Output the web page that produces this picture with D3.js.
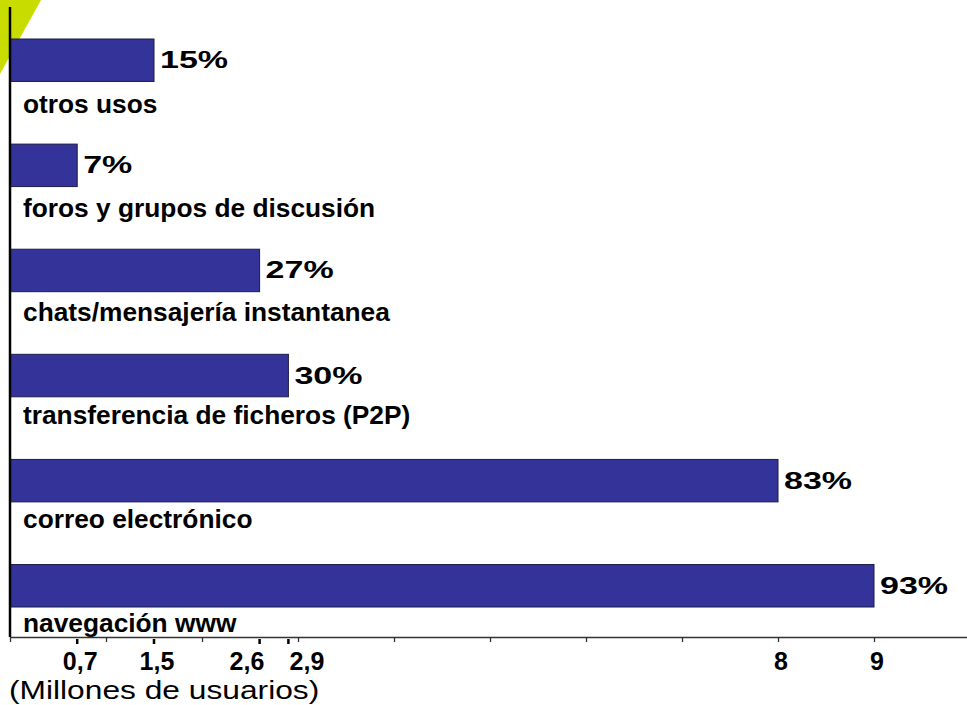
<!DOCTYPE html>
<html>
<head>
<meta charset="utf-8">
<script src="https://cdn.jsdelivr.net/npm/d3@7"></script>
<style>
  html, body { margin: 0; padding: 0; background: #ffffff; }
  svg { display: block; }
</style>
</head>
<body>
<script>
// Internet usage by service (millions of users, share of internet users)
const categories = [
  "otros usos",
  "foros y grupos de discusión",
  "chats/mensajería instantanea",
  "transferencia de ficheros (P2P)",
  "correo electrónico",
  "navegación www"
];
const usersMillions = [1.5, 0.7, 2.6, 2.9, 8, 9];
const sharePct = [15, 7, 27, 30, 83, 93];
const labeledTicks = [0.7, 1.5, 2.6, 2.9, 8, 9];
const majorTicks = [0, 1, 2, 3, 4, 5, 6, 7, 8, 9, 10];
const axisTitle = "(Millones de usuarios)";

const W = 967, H = 705;
const axisY = 637;

const svg = d3.select("body").append("svg")
  .attr("width", W).attr("height", H);

svg.append("rect").attr("width", W).attr("height", H).attr("fill", "#ffffff");

// decorative lime corner
svg.append("path")
  .attr("d", "M0,0 L41,0 L0,74 Z")
  .attr("fill", "#c8dc00");

const x = d3.scaleLinear().domain([0, 10]).range([10, 970]);
const y = d3.scaleBand().domain(categories).range([39, 607])
  .paddingInner(0.596).paddingOuter(0);
const bw = y.bandwidth();
// baselines of the category names, one per row under its bar
const yName = d3.scalePoint().domain(categories).range([113, 632]);

const rows = categories.map((c, i) => ({ c, v: usersMillions[i], p: sharePct[i] }));

// bars
svg.append("g").selectAll("rect").data(rows).join("rect")
  .attr("x", x(0))
  .attr("y", d => y(d.c))
  .attr("width", d => x(d.v) - x(0))
  .attr("height", bw)
  .attr("fill", "#333399")
  .attr("stroke", "#1c1c48")
  .attr("stroke-width", 1);

// percentage labels to the right of each bar
svg.append("g").selectAll("text").data(rows).join("text")
  .attr("transform", d => `translate(${x(d.v) + 6},${y(d.c) + bw / 2 + 8}) scale(1.48,1)`)
  .attr("font-family", "Liberation Sans, Arial, sans-serif")
  .attr("font-weight", "bold")
  .attr("font-size", 23)
  .attr("fill", "#000")
  .text(d => d.p + "%");

// category names under each bar
svg.append("g").selectAll("text").data(rows).join("text")
  .attr("x", 23)
  .attr("y", d => yName(d.c))
  .attr("font-family", "Liberation Sans, Arial, sans-serif")
  .attr("font-weight", "bold")
  .attr("font-size", 26.3)
  .attr("fill", "#000")
  .text(d => d.c);

// x axis with plain major ticks
const xAxis = svg.append("g")
  .attr("transform", `translate(0,${axisY})`)
  .call(d3.axisBottom(x).tickValues(majorTicks).tickSize(5).tickSizeOuter(0).tickFormat(""));
xAxis.select(".domain").attr("stroke", "#333").attr("stroke-width", 1.5);
xAxis.selectAll(".tick line").attr("stroke", "#333").attr("stroke-width", 1.3);

// emphasized marks at the labeled non-integer values
svg.append("g").selectAll("line")
  .data(labeledTicks.filter(v => !Number.isInteger(v))).join("line")
  .attr("x1", d => x(d)).attr("x2", d => x(d))
  .attr("y1", axisY + 2).attr("y2", axisY + 7)
  .attr("stroke", "#000").attr("stroke-width", 2.5);

// labeled tick values, spread apart where they would collide
const fmt = v => String(v).replace(".", ",");
const pos = labeledTicks.map(v => x(v));
const minSep = 60;
for (let k = 0; k < 30; k++) {
  for (let i = 0; i < pos.length - 1; i++) {
    const d = pos[i + 1] - pos[i];
    if (d < minSep) {
      const s = (minSep - d) / 2;
      pos[i] -= s; pos[i + 1] += s;
    }
  }
}
svg.append("g").selectAll("text").data(labeledTicks).join("text")
  .attr("x", (d, i) => pos[i] + 3)
  .attr("y", 670)
  .attr("text-anchor", "middle")
  .attr("font-family", "Liberation Sans, Arial, sans-serif")
  .attr("font-weight", "bold")
  .attr("font-size", 25)
  .attr("fill", "#000")
  .text(fmt);

// vertical category axis line
svg.append("line")
  .attr("x1", x(0)).attr("x2", x(0))
  .attr("y1", 7).attr("y2", axisY)
  .attr("stroke", "#000").attr("stroke-width", 2.5);

// axis title
svg.append("text")
  .attr("transform", "translate(9,699) scale(1.22,1)")
  .attr("font-family", "Liberation Sans, Arial, sans-serif")
  .attr("font-size", 26)
  .attr("fill", "#000")
  .text(axisTitle);
</script>
</body>
</html>
